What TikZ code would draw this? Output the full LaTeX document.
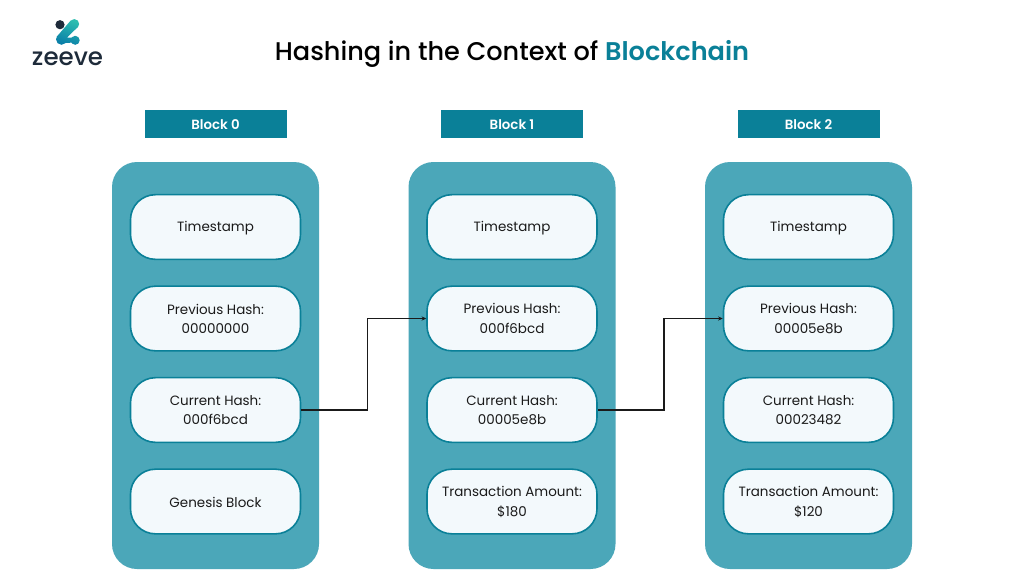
\documentclass[tikz,border=0pt]{standalone}
\usepackage{fontspec}
\setmainfont{Poppins}
\newfontfamily\medfont{Poppins Medium}
\newfontfamily\semifont{Poppins SemiBold}
\definecolor{teald}{HTML}{0A8098}
\definecolor{panelc}{HTML}{4BA7B9}
\definecolor{cardc}{HTML}{F3F9FC}
\definecolor{inkc}{HTML}{1A1A1A}
\definecolor{navyc}{HTML}{1E2B3A}
\definecolor{logot}{HTML}{2DBDB0}
\definecolor{logob}{HTML}{0A7FA8}
\usetikzlibrary{arrows.meta,positioning}
\tikzset{
  panel/.style={fill=panelc,draw=none,rounded corners=18.75pt,minimum width=155.25pt,minimum height=305.25pt,inner sep=0pt},
  card/.style={fill=cardc,draw=teald,line width=1.2pt,rounded corners=18.75pt,minimum width=127.5pt,minimum height=48.5pt,inner sep=0pt,align=center,text=inkc},
  cardtxt/.style={text=inkc,align=center,font=\fontsize{10.1pt}{14.4pt}\selectfont},
  head/.style={fill=teald,draw=none,minimum width=106.5pt,minimum height=21pt,inner sep=0pt},
  headtxt/.style={text=white,font=\fontsize{10pt}{11pt}\semifont},
  link/.style={draw=inkc,line width=0.8pt,-{Stealth[length=3.5pt,width=3.2pt]}}
}
\begin{document}
\begin{tikzpicture}[x=0.75pt,y=-0.75pt]
\useasboundingbox (0,0) rectangle (1024,576);
\fill[white] (0,0) rectangle (1024,576);
% logo
\shade[top color=logot,bottom color=logob,shading angle=-20]
  (74.3,24) circle (4.9)
  (70.7,20.5) -- (77.8,27) -- (67,37.6) -- (75,37.6) -- (75,42.6) -- (61,43) -- (56.5,37) -- cycle
  (61.5,39.3) circle (5.5)
  (75.2,40.3) circle (4.5);
\fill[navyc] (60,24.7) circle (4.6);
\node[text=navyc,font=\fontsize{18.4pt}{20pt}\medfont] (logo) at (67.5,59) {zeeve};
% title
\node[font=\fontsize{19.2pt}{24pt}\selectfont] (title) at (512,54) {\medfont\textcolor{black}{Hashing in the Context of }\semifont\textcolor{teald}{Blockchain}};
% columns
\foreach \i/\dx/\nm/\pv/\cu/\la in {0/0/Block 0/00000000/000f6bcd/Genesis Block,1/296.5/Block 1/000f6bcd/00005e8b/{Transaction Amount:\\\$180},2/593/Block 2/00005e8b/00023482/{Transaction Amount:\\\$120}}{
  \node[head] (h\i) at (215.5+\dx,124) {};
  \node[headtxt] (hx\i) at (215.5+\dx,125) {\nm};
  \node[panel] (p\i) at (215.5+\dx,365.5) {};
  \node[card] (t\i) at (215.5+\dx,227) {};
  \node[cardtxt] (tx\i) at (215.5+\dx,228) {Timestamp};
  \node[card] (v\i) at (215.5+\dx,318.5) {};
  \node[cardtxt] (vx\i) at (215.5+\dx,318.5) {Previous Hash:\\\pv};
  \node[card] (c\i) at (215.5+\dx,410) {};
  \node[cardtxt] (cx\i) at (215.5+\dx,410) {Current Hash:\\\cu};
  \node[card] (l\i) at (215.5+\dx,501.5) {};
  \node[cardtxt] (lx\i) at (215.5+\dx,502) {\la};
}
\draw[link] (c0.east) -- (367.5,410) -- (367.5,318.5) -- (v1.west);
\draw[link] (c1.east) -- (664,410) -- (664,318.5) -- (v2.west);
\end{tikzpicture}
\end{document}
